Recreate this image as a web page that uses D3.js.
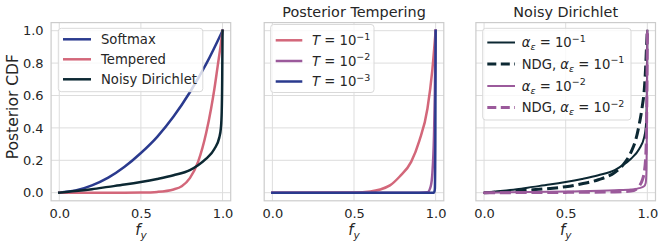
<!DOCTYPE html>
<html>
<head>
<meta charset="utf-8">
<script src="https://cdn.jsdelivr.net/npm/d3@7"></script>
<style>
  html, body { margin: 0; padding: 0; background: #ffffff; }
  svg { display: block; font-family: "DejaVu Sans", sans-serif; }
</style>
</head>
<body>
<svg id="chart" width="664" height="247"></svg>
<script>
// ---------------- DATA ----------------
const xTicks = [0.0, 0.5, 1.0];
const yTicks = [0.0, 0.2, 0.4, 0.6, 0.8, 1.0];
const panelTitles = ["", "Posterior Tempering", "Noisy Dirichlet"];

// Panel 1
const softmaxX = [0, 0.1, 0.2, 0.3, 0.4, 0.5, 0.6, 0.7, 0.8, 0.9, 1.0];
const softmaxY = [0, 0.013, 0.045, 0.093, 0.16, 0.245, 0.345, 0.47, 0.62, 0.795, 1.0];
const temperedX = [0, 0.4, 0.5, 0.6, 0.7, 0.75, 0.8, 0.85, 0.9, 0.93, 0.95, 0.97, 0.99, 1.0];
const temperedY = [0, 0, 0.001, 0.005, 0.02, 0.04, 0.09, 0.19, 0.37, 0.52, 0.64, 0.78, 0.92, 1.0];
const noisyX = [0, 0.1, 0.2, 0.3, 0.4, 0.5, 0.6, 0.7, 0.8, 0.85, 0.9, 0.95, 0.98, 0.99, 0.995, 0.998, 1.0];
const noisyY = [0, 0.01, 0.022, 0.036, 0.05, 0.066, 0.085, 0.108, 0.14, 0.17, 0.21, 0.27, 0.34, 0.4, 0.5, 0.7, 1.0];

// Panel 2
const t1X = [0, 0.5, 0.6, 0.66, 0.72, 0.78, 0.85, 0.9, 0.95, 0.98, 1.0];
const t1Y = [0, 0.002, 0.008, 0.02, 0.045, 0.1, 0.19, 0.32, 0.52, 0.76, 1.0];
const t2X = [0, 0.9, 0.95, 0.97, 0.98, 0.99, 0.995, 1.0];
const t2Y = [0, 0, 0.003, 0.04, 0.12, 0.35, 0.6, 1.0];
const t3X = [0, 0.99, 0.995, 0.998, 1.0];
const t3Y = [0, 0, 0.02, 0.3, 1.0];

// Panel 3
const ndg1X = [0, 0.2, 0.3, 0.4, 0.5, 0.6, 0.7, 0.8, 0.85, 0.9, 0.93, 0.95, 0.97, 0.98, 0.99, 0.995, 1.0];
const ndg1Y = [0, 0.01, 0.018, 0.026, 0.037, 0.055, 0.08, 0.125, 0.17, 0.25, 0.33, 0.42, 0.54, 0.62, 0.78, 0.9, 1.0];
const a2X = [0, 0.5, 0.8, 0.9, 0.95, 0.98, 0.99, 0.995, 0.998, 1.0];
const a2Y = [0, 0.008, 0.015, 0.02, 0.028, 0.04, 0.06, 0.15, 0.5, 1.0];
const ndg2X = [0, 0.5, 0.8, 0.9, 0.93, 0.95, 0.97, 0.98, 0.99, 0.995, 1.0];
const ndg2Y = [0, 0.002, 0.005, 0.01, 0.02, 0.04, 0.08, 0.12, 0.22, 0.4, 1.0];

// ---------------- STYLE ----------------
const C = { blue: "#2a3a8e", red: "#d3677a", dark: "#0c2833", purple: "#9b5a9b" };
const textColor = "#262626";
const gridColor = "#dddddd";
const spineColor = "#cccccc";

const panels = [
  { left: 51.1, series: [
      { x: softmaxX, y: softmaxY, color: C.blue, w: 2.5, label: [{t: "Softmax"}] },
      { x: temperedX, y: temperedY, color: C.red, w: 2.5, label: [{t: "Tempered"}] },
      { x: noisyX, y: noisyY, color: C.dark, w: 2.5, label: [{t: "Noisy Dirichlet"}] }
    ], legend: { x: 58.3, y: 28.3, w: 144.5, rowY: [39.3, 59.3, 79.3], h: 63.4, lineX: [63, 91], textX: 101 } },
  { left: 264.2, series: [
      { x: t1X, y: t1Y, color: C.red, w: 2.5, label: [{t: "T", i: true}, {t: " = 10"}, {t: "\u22121", sup: true}] },
      { x: t2X, y: t2Y, color: C.purple, w: 2.5, label: [{t: "T", i: true}, {t: " = 10"}, {t: "\u22122", sup: true}] },
      { x: t3X, y: t3Y, color: C.blue, w: 2.5, label: [{t: "T", i: true}, {t: " = 10"}, {t: "\u22123", sup: true}] }
    ], legend: { x: 270.7, y: 24.5, w: 103.3, rowY: [40.3, 61, 81.5], h: 68, lineX: [275.7, 302.3], textX: 312 } },
  { left: 475.9, series: [
      { x: noisyX, y: noisyY, color: C.dark, w: 2, label: [{t: "\u03b1", i: true}, {t: "\u03b5", sub: true, i: true}, {t: " = 10"}, {t: "\u22121", sup: true}] },
      { x: ndg1X, y: ndg1Y, color: C.dark, w: 3, dash: "11,4.8", label: [{t: "NDG, "}, {t: "\u03b1", i: true}, {t: "\u03b5", sub: true, i: true}, {t: " = 10"}, {t: "\u22121", sup: true}] },
      { x: a2X, y: a2Y, color: C.purple, w: 2, label: [{t: "\u03b1", i: true}, {t: "\u03b5", sub: true, i: true}, {t: " = 10"}, {t: "\u22122", sup: true}] },
      { x: ndg2X, y: ndg2Y, color: C.purple, w: 3, dash: "11,4.8", label: [{t: "NDG, "}, {t: "\u03b1", i: true}, {t: "\u03b5", sub: true, i: true}, {t: " = 10"}, {t: "\u22122", sup: true}] }
    ], legend: { x: 482.7, y: 28.3, w: 148.3, rowY: [42.5, 64, 86, 107.5], h: 91.7, lineX: [487.3, 515], textX: 521.7 } }
];

const panelW = 179.6, plotTop = 22.6, plotBottom = 200.8;
const svg = d3.select("#chart");

panels.forEach((p, pi) => {
  const x = d3.scaleLinear().domain([-0.05, 1.05]).range([p.left, p.left + panelW]);
  const y = d3.scaleLinear().domain([-0.05, 1.05]).range([plotBottom, plotTop]);
  const g = svg.append("g");

  // grid
  g.selectAll(".gx").data(xTicks).enter().append("line")
    .attr("x1", d => x(d)).attr("x2", d => x(d)).attr("y1", plotTop).attr("y2", plotBottom)
    .attr("stroke", gridColor).attr("stroke-width", 1);
  g.selectAll(".gy").data(yTicks).enter().append("line")
    .attr("x1", p.left).attr("x2", p.left + panelW).attr("y1", d => y(d)).attr("y2", d => y(d))
    .attr("stroke", gridColor).attr("stroke-width", 1);

  // spines
  g.append("rect").attr("x", p.left).attr("y", plotTop).attr("width", panelW).attr("height", plotBottom - plotTop)
    .attr("fill", "none").attr("stroke", spineColor).attr("stroke-width", 1.2);

  // x axis
  const xa = g.append("g").attr("transform", `translate(0,${plotBottom})`)
    .call(d3.axisBottom(x).tickValues(xTicks).tickFormat(d3.format(".1f")).tickSize(0).tickPadding(8));
  xa.select(".domain").remove();
  xa.selectAll("text").attr("font-size", 13).attr("fill", textColor).attr("font-family", "DejaVu Sans");

  if (pi === 0) {
    const ya = g.append("g").attr("transform", `translate(${p.left},0)`)
      .call(d3.axisLeft(y).tickValues(yTicks).tickFormat(d3.format(".1f")).tickSize(0).tickPadding(7.5));
    ya.select(".domain").remove();
    ya.selectAll("text").attr("font-size", 13).attr("fill", textColor).attr("font-family", "DejaVu Sans");
    svg.append("text").attr("transform", `translate(17.5,${(plotTop + plotBottom) / 2 - 5}) rotate(-90)`)
      .attr("text-anchor", "middle").attr("font-size", 15.5).attr("fill", textColor)
      .text("Posterior CDF");
  }

  // x label f_y
  const xl = svg.append("text").attr("x", p.left + panelW / 2).attr("y", 235)
    .attr("text-anchor", "middle").attr("font-size", 15).attr("fill", textColor);
  xl.append("tspan").attr("font-style", "italic").text("f");
  xl.append("tspan").attr("font-style", "italic").attr("font-size", 10.5).attr("dy", 3.5).text("y");

  // title
  if (panelTitles[pi]) {
    svg.append("text").attr("x", p.left + panelW / 2).attr("y", 16.8)
      .attr("text-anchor", "middle").attr("font-size", 14.4).attr("fill", textColor)
      .text(panelTitles[pi]);
  }

  // lines
  const line = d3.line().x(d => x(d[0])).y(d => y(d[1])).curve(d3.curveMonotoneX);
  p.series.forEach(s => {
    const pts = s.x.map((v, i) => [v, s.y[i]]);
    g.append("path").datum(pts).attr("d", line)
      .attr("fill", "none").attr("stroke", s.color).attr("stroke-width", s.w)
      .attr("stroke-dasharray", s.dash || null).attr("stroke-linejoin", "round")
      .attr("stroke-linecap", s.dash ? "butt" : "square");
  });

  // legend
  const L = p.legend;
  const lg = svg.append("g");
  lg.append("rect").attr("x", L.x).attr("y", L.y).attr("width", L.w).attr("height", L.h)
    .attr("rx", 3).attr("fill", "#ffffff").attr("fill-opacity", 0.8)
    .attr("stroke", "#d9d9d9").attr("stroke-width", 1);
  p.series.forEach((s, i) => {
    const ry = L.rowY[i];
    lg.append("line").attr("x1", L.lineX[0]).attr("x2", L.lineX[1]).attr("y1", ry).attr("y2", ry)
      .attr("stroke", s.color).attr("stroke-width", s.w).attr("stroke-dasharray", s.dash ? "9,4.5" : null);
    const t = lg.append("text").attr("x", L.textX).attr("y", ry + 4.7)
      .attr("font-size", 13.2).attr("fill", textColor);
    let shift = 0;
    s.label.forEach(part => {
      const ts = t.append("tspan").text(part.t);
      if (part.i) ts.attr("font-style", "italic");
      let target = 0;
      if (part.sup) { ts.attr("font-size", 9.5); target = -5.5; }
      if (part.sub) { ts.attr("font-size", 9.5); target = 3; }
      if (target !== shift) { ts.attr("dy", target - shift); shift = target; }
    });
  });
});
</script>
</body>
</html>
